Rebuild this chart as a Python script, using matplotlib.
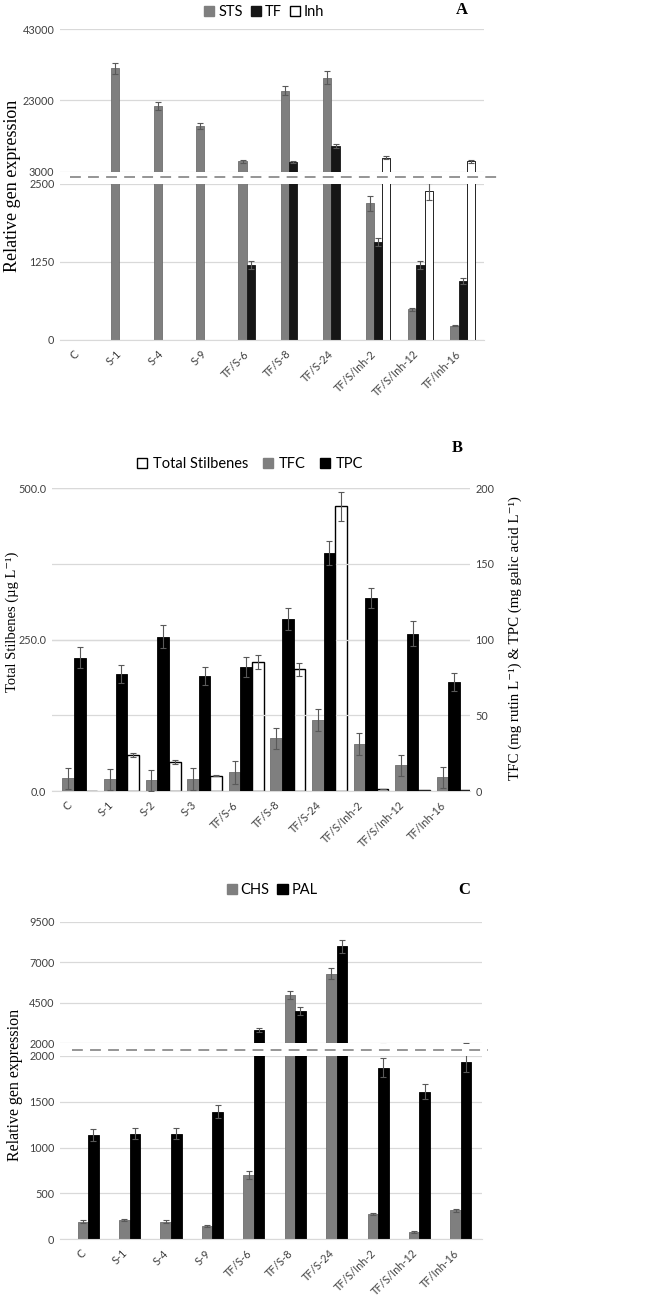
import matplotlib
matplotlib.use('Agg')
import matplotlib.pyplot as plt
import numpy as np
from matplotlib.patches import Patch
from matplotlib.lines import Line2D

# ---- data ----
labels_a = ['C', 'S-1', 'S-4', 'S-9', 'TF/S-6', 'TF/S-8', 'TF/S-24', 'TF/S/Inh-2', 'TF/S/Inh-12', 'TF/Inh-16']
sts = [1, 32000, 21400, 15900, 6050, 25700, 29400, 2190, 490, 230]
sts_err = [0, 1600, 1100, 900, 400, 1300, 1800, 120, 30, 10]
tf = [1, 1, 1, 1, 1200, 5880, 10270, 1570, 1200, 945]
tf_err = [0, 0, 0, 0, 60, 300, 500, 70, 60, 50]
inh = [1, 1, 1, 1, 1, 1, 1, 7000, 2380, 6000]
inh_err = [0, 0, 0, 0, 0, 0, 0, 400, 135, 350]

labels_b = ['C', 'S-1', 'S-2', 'S-3', 'TF/S-6', 'TF/S-8', 'TF/S-24', 'TF/S/Inh-2', 'TF/S/Inh-12', 'TF/Inh-16']
stilb = [0, 59, 48, 25, 213, 201, 470, 3.3, 1, 1]
stilb_err = [0, 3, 3, 1, 11, 11, 24, 0.5, 0, 0]
tfc = [8.4, 7.7, 7.0, 7.9, 12.3, 34.8, 46.9, 31.1, 17, 9]
tfc_err = [7, 7, 7, 7, 7.5, 7, 7, 7, 7, 7]
tpc = [88, 77.5, 102, 76, 82, 113.6, 157.5, 127.3, 104, 71.8]
tpc_err = [7, 6, 7.5, 6, 6.5, 7.5, 8, 6.7, 8, 6]

labels_c = labels_a
chs = [191, 210, 191, 148, 696, 4980, 6300, 272, 80, 315]
chs_err = [15, 15, 15, 12, 43, 270, 340, 12, 8, 20]
pal = [1138, 1148, 1148, 1388, 2800, 3990, 8000, 1870, 1609, 1931]
pal_err = [63, 60, 60, 70, 120, 240, 410, 100, 80, 110]

GRAY = '#7f7f7f'
DARK = '#161616'
ERR = '#595959'
GRID = '#d9d9d9'
TICK = '#404040'
SANS = ['Lato', 'DejaVu Sans']
SERIF = ['Liberation Serif', 'DejaVu Serif']

W, H = 666, 1297
fig = plt.figure(figsize=(W / 100, H / 100), dpi=100)


def box(left, top, right, bottom):
    return [left / W, 1 - bottom / H, (right - left) / W, (bottom - top) / H]


def style(ax, yticks, fmt='{:.0f}', bottom_spine=False, grid=True):
    for s in ax.spines.values():
        s.set_visible(False)
    if bottom_spine:
        ax.spines['bottom'].set_visible(True)
        ax.spines['bottom'].set_color(GRID)
    ax.set_yticks(yticks)
    ax.set_yticklabels([fmt.format(t) for t in yticks], family=SANS, fontsize=7.8, color=TICK)
    ax.tick_params(length=0, pad=4)
    ax.yaxis.grid(grid, color=GRID, lw=0.9)
    ax.set_axisbelow(True)


def xlabels(ax, labels):
    ax.set_xticks(np.arange(len(labels)))
    ax.set_xticklabels(labels, rotation=45, ha='right', family=SANS, fontsize=7.8, color=TICK)
    ax.tick_params(axis='x', length=0, pad=6)


def bars(ax, x, vals, errs, w, fc, ec, lo, hi, lw=0.6, flat=False):
    vals = np.asarray(vals, float)
    errs = np.asarray(errs, float)
    h = np.clip(vals - lo, 0, None)
    # tiny bars: thin edge line only on the upper (broken) part, as in the source chart
    lws = lw if flat else np.where(h > 0.004 * (hi - lo), lw, 0)
    ax.bar(x, h, w, bottom=lo, color=fc, edgecolor=ec, linewidth=lws, zorder=2)
    m = errs > 0
    ax.errorbar(np.asarray(x)[m], vals[m], yerr=errs[m], fmt='none', ecolor=ERR, elinewidth=0.8,
                capsize=2, capthick=0.8, zorder=3)


def broken(top_box, bot_box, xlim, hi_lim, lo_lim, hi_ticks, lo_ticks, series, labels, dash):
    ax_hi = fig.add_axes(top_box)
    ax_lo = fig.add_axes(bot_box)
    x = np.arange(len(labels))
    for ax, lim, flat in ((ax_hi, hi_lim, True), (ax_lo, lo_lim, False)):
        for off, vals, errs, w, fc, ec in series:
            bars(ax, x + off, vals, errs, w, fc, ec, lim[0], lim[1], flat=flat)
        ax.set_xlim(*xlim)
        ax.set_ylim(*lim)
    style(ax_hi, hi_ticks)
    ax_hi.set_xticks([])
    style(ax_lo, lo_ticks, bottom_spine=True)
    xlabels(ax_lo, labels)
    fig.add_artist(Line2D([dash[0] / W, dash[1] / W], [1 - dash[2] / H] * 2, color='#8c8c8c',
                          lw=1.3, ls=(0, (6, 4))))
    return ax_hi, ax_lo


# ---- panel A ----
wa = 0.195
broken(box(60, 29, 484, 172), box(60, 184, 484, 340), (-0.5, 9.5), (3000, 43000), (0, 2500),
       [3000, 23000, 43000], [0, 1250, 2500],
       [(-wa, sts, sts_err, wa, GRAY, '#6e6e6e'),
        (0, tf, tf_err, wa, DARK, DARK),
        (wa, inh, inh_err, wa, 'white', 'black')],
       labels_a, (70, 503, 177))
fig.legend(handles=[Patch(fc=GRAY, ec=GRAY, label='STS'), Patch(fc=DARK, ec=DARK, label='TF'),
                    Patch(fc='white', ec='black', label='Inh')],
           loc='center', bbox_to_anchor=(264 / W, 1 - 12 / H), ncol=3, frameon=False,
           prop={'family': SANS, 'size': 10.5}, handlelength=0.7, handleheight=0.7,
           handletextpad=0.25, columnspacing=0.55)
fig.text(462 / W, 1 - 10 / H, 'A', family=SERIF, weight='bold', fontsize=12, ha='center', va='center')
fig.text(13 / W, 1 - 186 / H, 'Relative gen expression', family=SERIF, fontsize=13, rotation=90,
         ha='center', va='center')

# ---- panel B ----
wb = 0.28
axb = fig.add_axes(box(52, 488.3, 470, 791))
axr = axb.twinx()
x = np.arange(len(labels_b))
bars(axr, x - wb / 2, tfc, tfc_err, wb, GRAY, '#6e6e6e', 0, 200)
bars(axr, x + wb / 2, tpc, tpc_err, wb, 'black', 'black', 0, 200)
bars(axb, x + 1.5 * wb, stilb, stilb_err, wb, 'white', 'black', 0, 500, lw=1, flat=True)
axb.set_xlim(-0.53, 9.52)
axb.set_ylim(0, 500)
axr.set_ylim(0, 200)
style(axb, [0, 250, 500], fmt='{:.1f}', bottom_spine=True)
style(axr, [0, 50, 100, 150, 200], grid=False)
xlabels(axb, labels_b)
fig.legend(handles=[Patch(fc='white', ec='black', label='Total Stilbenes'),
                    Patch(fc=GRAY, ec=GRAY, label='TFC'), Patch(fc='black', ec='black', label='TPC')],
           loc='center', bbox_to_anchor=(250 / W, 1 - 464 / H), ncol=3, frameon=False,
           prop={'family': SANS, 'size': 10.5}, handlelength=0.7, handleheight=0.7,
           handletextpad=0.4, columnspacing=1.0)
fig.text(457 / W, 1 - 448 / H, 'B', family=SERIF, weight='bold', fontsize=12, ha='center', va='center')
fig.text(12 / W, 1 - 622 / H, 'Total Stilbenes (\u00b5g L\u207b\u00b9)', family=SERIF, fontsize=10.5,
         rotation=90, ha='center', va='center')
fig.text(515 / W, 1 - 638 / H, 'TFC (mg rutin L\u207b\u00b9) & TPC (mg galic acid L\u207b\u00b9)', family=SERIF,
         fontsize=10.8, rotation=90, ha='center', va='center')

# ---- panel C ----
wc = 0.254
broken(box(60, 922, 482, 1043.3), box(60, 1055.7, 482, 1239.3), (-0.68, 9.51), (2000, 9500), (0, 2000),
       [2000, 4500, 7000, 9500], [0, 500, 1000, 1500, 2000],
       [(-wc / 2, chs, chs_err, wc, GRAY, '#6e6e6e'),
        (wc / 2, pal, pal_err, wc, 'black', 'black')],
       labels_c, (72, 488, 1049.7))
fig.legend(handles=[Patch(fc=GRAY, ec=GRAY, label='CHS'), Patch(fc='black', ec='black', label='PAL')],
           loc='center', bbox_to_anchor=(272 / W, 1 - 890 / H), ncol=2, frameon=False,
           prop={'family': SANS, 'size': 10.5}, handlelength=0.7, handleheight=0.7,
           handletextpad=0.25, columnspacing=0.55)
fig.text(464 / W, 1 - 890 / H, 'C', family=SERIF, weight='bold', fontsize=12, ha='center', va='center')
fig.text(15 / W, 1 - 1085 / H, 'Relative gen expression', family=SERIF, fontsize=11.5, rotation=90,
         ha='center', va='center')

fig.savefig('out.png', dpi=100)
